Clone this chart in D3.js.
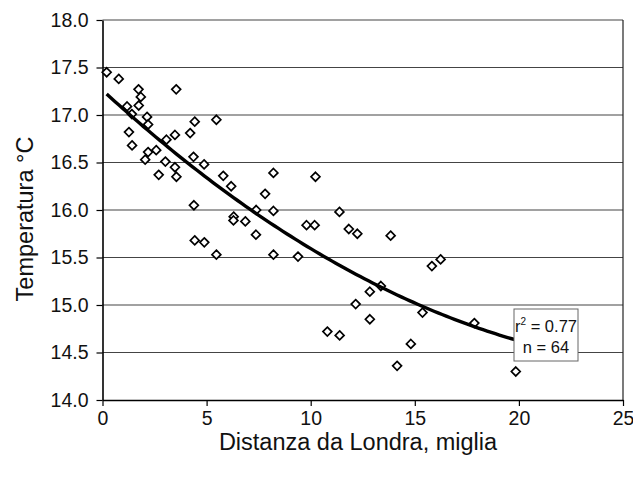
<!DOCTYPE html>
<html>
<head>
<meta charset="utf-8">
<script src="https://cdn.jsdelivr.net/npm/d3@7"></script>
<style>
  body { margin: 0; background: #fff; }
  svg { display: block; font-family: "Liberation Sans", Arial, sans-serif; }
</style>
</head>
<body>
<svg id="chart" width="633" height="480"></svg>
<script>
// distance from London (miles) and temperature (°C)
const distanza = [
  0.20, 0.78, 1.73, 1.84, 1.74, 1.18, 1.41, 2.14, 2.19, 3.54,
  1.27, 1.42, 2.19, 2.05, 2.58, 3.07, 3.48, 4.21, 4.43, 5.47,
  3.02, 3.48, 2.70, 3.55, 4.37, 4.88, 5.80, 6.18, 8.21, 7.81,
  8.21, 7.38, 4.39, 6.30, 6.29, 6.86, 7.37, 4.43, 4.89, 5.47,
  8.21, 9.39, 9.80, 10.19, 10.23, 11.38, 11.83, 12.24, 13.84, 15.82,
  16.24, 13.37, 12.84, 12.16, 12.84, 15.37, 17.86, 10.80, 11.39, 14.81,
  14.15, 19.85
];
const temperatura = [
  17.45, 17.38, 17.27, 17.19, 17.10, 17.09, 17.01, 16.98, 16.90, 17.27,
  16.82, 16.68, 16.61, 16.53, 16.63, 16.74, 16.79, 16.81, 16.93, 16.95,
  16.51, 16.45, 16.37, 16.35, 16.56, 16.48, 16.36, 16.25, 16.39, 16.17,
  15.99, 16.00, 16.05, 15.93, 15.89, 15.88, 15.74, 15.68, 15.66, 15.53,
  15.53, 15.51, 15.84, 15.84, 16.35, 15.98, 15.80, 15.75, 15.73, 15.41,
  15.48, 15.20, 15.14, 15.01, 14.85, 14.92, 14.81, 14.72, 14.68, 14.59,
  14.36, 14.30
];
const xTicks = [0, 5, 10, 15, 20, 25];
const yTicks = [14.0, 14.5, 15.0, 15.5, 16.0, 16.5, 17.0, 17.5, 18.0];
const statLines = ["0.77", "64"];

const svg = d3.select("#chart");
const plotLeft = 102.5, plotRight = 623, plotTop = 20, plotBottom = 400;

const x = d3.scaleLinear().domain([0, 25]).range([plotLeft, plotRight]);
const y = d3.scaleLinear().domain([14, 18]).range([plotBottom, plotTop]);

// gridlines
svg.append("g")
  .selectAll("line")
  .data(yTicks.slice(1))
  .join("line")
  .attr("x1", plotLeft).attr("x2", plotRight)
  .attr("y1", d => y(d)).attr("y2", d => y(d))
  .attr("stroke", "#444").attr("stroke-width", 1.2);

// right border of plot area
svg.append("line")
  .attr("x1", plotRight).attr("x2", plotRight)
  .attr("y1", plotTop).attr("y2", plotBottom)
  .attr("stroke", "#222").attr("stroke-width", 1.2);

// axes
const yAxis = svg.append("g")
  .attr("transform", `translate(${plotLeft},0)`)
  .call(d3.axisLeft(y).tickValues(yTicks).tickFormat(d3.format(".1f")).tickSize(6).tickSizeOuter(0).tickPadding(8));
const xAxis = svg.append("g")
  .attr("transform", `translate(0,${plotBottom})`)
  .call(d3.axisBottom(x).tickValues(xTicks).tickSize(6).tickSizeOuter(0).tickPadding(5));

[yAxis, xAxis].forEach(g => {
  g.select(".domain").attr("stroke", "#000").attr("stroke-width", 1.6);
  g.selectAll(".tick line").attr("stroke", "#000").attr("stroke-width", 1.2);
  g.selectAll("text").attr("font-family", "Liberation Sans, Arial, sans-serif")
    .attr("font-size", 19.5).attr("fill", "#111");
});

// quadratic least squares trend, as the spreadsheet did
function polyFit2(xs, ys) {
  let s = [0, 0, 0, 0, 0], t = [0, 0, 0];
  for (let i = 0; i < xs.length; i++) {
    let p = 1;
    for (let k = 0; k < 5; k++) { s[k] += p; if (k < 3) t[k] += p * ys[i]; p *= xs[i]; }
  }
  const A = [[s[0], s[1], s[2], t[0]], [s[1], s[2], s[3], t[1]], [s[2], s[3], s[4], t[2]]];
  for (let c = 0; c < 3; c++) {
    for (let r = c + 1; r < 3; r++) {
      const f = A[r][c] / A[c][c];
      for (let k = c; k < 4; k++) A[r][k] -= f * A[c][k];
    }
  }
  const coef = [0, 0, 0];
  for (let r = 2; r >= 0; r--) {
    let v = A[r][3];
    for (let k = r + 1; k < 3; k++) v -= A[r][k] * coef[k];
    coef[r] = v / A[r][r];
  }
  return coef;
}
const coef = polyFit2(distanza, temperatura);
const xMin = d3.min(distanza), xMax = d3.max(distanza);
const trend = d3.range(0, 101).map(i => {
  const xv = xMin + (xMax - xMin) * i / 100;
  return [xv, coef[0] + coef[1] * xv + coef[2] * xv * xv];
});

// points
const diamond = d3.symbol().type(d3.symbolDiamond2).size(50);
svg.append("g")
  .selectAll("path")
  .data(distanza.map((d, i) => [d, temperatura[i]]))
  .join("path")
  .attr("transform", d => `translate(${x(d[0])},${y(d[1])})`)
  .attr("d", diamond)
  .attr("fill", "#fff")
  .attr("stroke", "#000")
  .attr("stroke-width", 1.7);

svg.append("path")
  .datum(trend)
  .attr("fill", "none")
  .attr("stroke", "#000")
  .attr("stroke-width", 3.4)
  .attr("d", d3.line().x(d => x(d[0])).y(d => y(d[1])));

// stats box
const box = svg.append("g").attr("transform", "translate(514,309)");
box.append("rect").attr("width", 64).attr("height", 52)
  .attr("fill", "#fff").attr("stroke", "#666").attr("stroke-width", 1);
const t1 = box.append("text").attr("x", 32).attr("y", 23).attr("text-anchor", "middle")
  .attr("font-size", 16.5).attr("fill", "#111");
t1.append("tspan").text("r");
t1.append("tspan").attr("font-size", 10).attr("dy", -7).text("2");
t1.append("tspan").attr("dy", 7).text(" = " + statLines[0]);
box.append("text").attr("x", 32).attr("y", 44).attr("text-anchor", "middle")
  .attr("font-size", 16.5).attr("fill", "#111").text("n = " + statLines[1]);

// axis titles
svg.append("text")
  .attr("x", 358).attr("y", 450)
  .attr("text-anchor", "middle")
  .attr("font-size", 23.5).attr("fill", "#111")
  .text("Distanza da Londra, miglia");
svg.append("text")
  .attr("transform", "translate(33,219) rotate(-90)")
  .attr("text-anchor", "middle")
  .attr("font-size", 23.5).attr("fill", "#111")
  .text("Temperatura °C");
</script>
</body>
</html>
